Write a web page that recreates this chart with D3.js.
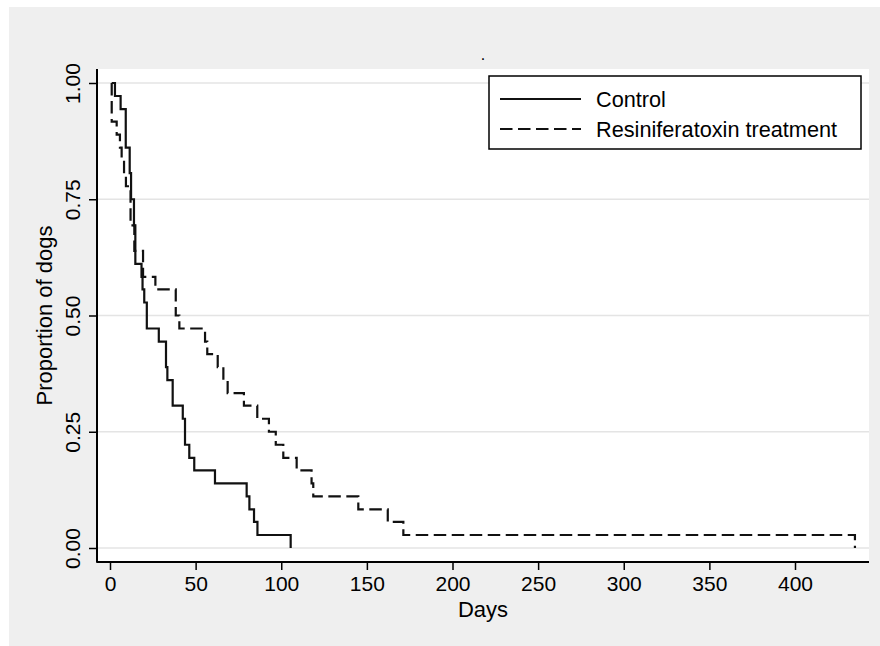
<!DOCTYPE html>
<html>
<head>
<meta charset="utf-8">
<script src="https://cdn.jsdelivr.net/npm/d3@7"></script>
<style>
  body { margin: 0; background: #fff; }
  text { font-family: "Liberation Sans", Arial, sans-serif; fill: #000; }
</style>
</head>
<body>
<svg id="chart"></svg>
<script>
// Kaplan-Meier estimates
var controlDays = [1, 2.9, 6.2, 9.2, 11.5, 12.3, 14.0, 14.8, 18.4, 19.0, 20.0, 21.5, 28.5, 32.7, 33.5, 36.6, 42.5, 43.8, 46.3, 49.2, 61.3, 79.8, 81.4, 84.1, 86.1, 105.5];
var controlSurv = [1, .972, .944, .861, .806, .750, .694, .611, .583, .556, .528, .472, .444, .389, .361, .306, .278, .222, .194, .167, .139, .111, .083, .056, .028, 0];

var rtxDays = [1, 1, 3.9, 5.8, 6.8, 8.2, 9.3, 12.0, 14.2, 19.3, 26.5, 38.4, 40.5, 55.5, 56.8, 62.9, 66.2, 68.7, 78.2, 86.0, 92.8, 96.8, 101.2, 109.0, 117.7, 118.7, 145.0, 162.2, 171.3, 435.0];
var rtxSurv = [1, .917, .889, .861, .833, .806, .778, .694, .639, .583, .556, .500, .472, .444, .417, .389, .361, .333, .306, .278, .250, .222, .194, .167, .139, .111, .083, .056, .028, 0];

var xTicks = [0, 50, 100, 150, 200, 250, 300, 350, 400];
var yTicks = [0, .25, .5, .75, 1];
var seriesNames = ["Control", "Resiniferatoxin treatment"];

var W = 880, H = 646;
var plot = {left: 97, top: 69, right: 869, bottom: 562};
var dash = "12.5,5.5";

var svg = d3.select("#chart").attr("width", W).attr("height", H);

// outer gray panel and white plot region
svg.append("rect").attr("x", 9).attr("y", 7).attr("width", W - 9).attr("height", H - 7).attr("fill", "#efefef");
svg.append("rect").attr("x", plot.left).attr("y", plot.top)
  .attr("width", plot.right - plot.left).attr("height", plot.bottom - plot.top).attr("fill", "#fff");

var x = d3.scaleLinear().domain([0, 400]).range([110, 795]);
var y = d3.scaleLinear().domain([0, 1]).range([548, 83]);

// gridlines
svg.append("g").selectAll("line").data(yTicks).enter().append("line")
  .attr("x1", plot.left).attr("x2", plot.right)
  .attr("y1", function(d){ return y(d); }).attr("y2", function(d){ return y(d); })
  .attr("stroke", "#e4e4e4").attr("stroke-width", 1.5);

// axes
var yAxis = d3.axisLeft(y).tickValues(yTicks).tickFormat(d3.format(".2f")).tickSize(8).tickPadding(9);
var yG = svg.append("g").attr("transform", "translate(" + plot.left + ",0)").call(yAxis);
yG.select(".domain").remove();
yG.selectAll(".tick line").attr("stroke", "#000").attr("stroke-width", 1.5);
yG.selectAll(".tick text")
  .attr("font-size", 21).attr("font-family", "Liberation Sans, Arial, sans-serif")
  .attr("text-anchor", "middle").attr("x", 0).attr("dy", 0)
  .attr("transform", "translate(-17,0) rotate(-90)");

var xAxis = d3.axisBottom(x).tickValues(xTicks).tickSize(8).tickPadding(6);
var xG = svg.append("g").attr("transform", "translate(0," + plot.bottom + ")").call(xAxis);
xG.select(".domain").remove();
xG.selectAll(".tick line").attr("stroke", "#000").attr("stroke-width", 1.5);
xG.selectAll(".tick text").attr("font-size", 21).attr("font-family", "Liberation Sans, Arial, sans-serif");

svg.append("line").attr("x1", plot.left).attr("x2", plot.left)
  .attr("y1", plot.top).attr("y2", plot.bottom + 0.75).attr("stroke", "#000").attr("stroke-width", 2);
svg.append("line").attr("x1", plot.left).attr("x2", plot.right)
  .attr("y1", plot.bottom).attr("y2", plot.bottom).attr("stroke", "#000").attr("stroke-width", 2);

// axis titles
svg.append("text").attr("x", (plot.left + plot.right) / 2).attr("y", 617)
  .attr("text-anchor", "middle").attr("font-size", 22).text("Days");
svg.append("text").attr("transform", "translate(52," + ((plot.top + plot.bottom) / 2) + ") rotate(-90)")
  .attr("text-anchor", "middle").attr("font-size", 22).text("Proportion of dogs");
svg.append("text").attr("x", 483).attr("y", 60).attr("text-anchor", "middle").attr("font-size", 16).text(".");

// survival curves
var line = d3.line()
  .x(function(d){ return x(d[0]); })
  .y(function(d){ return y(d[1]); })
  .curve(d3.curveStepAfter);

var series = [
  {pts: d3.zip(controlDays, controlSurv), dash: null},
  {pts: d3.zip(rtxDays, rtxSurv), dash: dash}
];
svg.append("g").selectAll("path").data(series).enter().append("path")
  .attr("d", function(d){ return line(d.pts); })
  .attr("fill", "none").attr("stroke", "#111").attr("stroke-width", 2.2)
  .attr("stroke-dasharray", function(d){ return d.dash; });

// legend
var lg = svg.append("g");
lg.append("rect").attr("x", 489).attr("y", 76).attr("width", 372).attr("height", 73)
  .attr("fill", "#fff").attr("stroke", "#000").attr("stroke-width", 1.5);
seriesNames.forEach(function(name, i){
  var ly = 99 + i * 30;
  lg.append("line").attr("x1", 500).attr("x2", 581).attr("y1", ly).attr("y2", ly)
    .attr("stroke", "#111").attr("stroke-width", 2)
    .attr("stroke-dasharray", series[i].dash);
  lg.append("text").attr("x", 596).attr("y", ly + 7.5).attr("font-size", 21.7).text(name);
});
</script>
</body>
</html>
